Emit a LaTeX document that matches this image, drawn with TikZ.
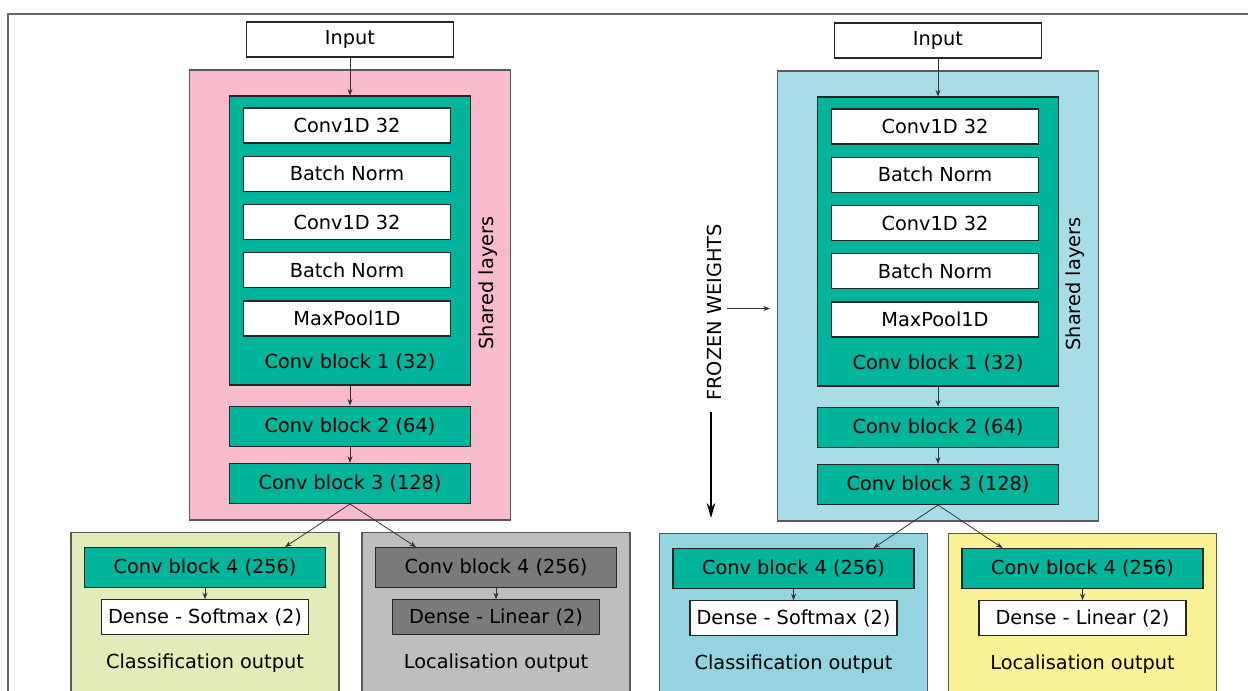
\documentclass[tikz,border=0pt]{standalone}
\usepackage{fontspec}
\setmainfont{DejaVu Sans}
\usetikzlibrary{positioning,arrows.meta,calc}

\definecolor{blockteal}{HTML}{00B59B}
\definecolor{sharedpink}{HTML}{F8BBCB}
\definecolor{sharedblue}{HTML}{A8DDE7}
\definecolor{classgreen}{HTML}{E3EBB9}
\definecolor{classblue}{HTML}{94D4E1}
\definecolor{locgrey}{HTML}{BEBEBE}
\definecolor{darkgrey}{HTML}{7A7A7A}
\definecolor{locyellow}{HTML}{F9F294}

\begin{document}
\begin{tikzpicture}[
  x=0.02cm, y=-0.02cm,
  every node/.style={font=\fontsize{11}{13}\selectfont, inner sep=0pt},
  layer/.style={draw=black!85, fill=white, line width=0.7pt,
    minimum width=4.14cm, minimum height=0.7cm},
  block/.style={draw=black!85, fill=blockteal, line width=0.7pt,
    minimum width=4.82cm, minimum height=0.8cm},
  group/.style={draw=black!65, line width=0.7pt,
    minimum width=6.42cm, minimum height=9cm},
  outbox/.style={draw=black!65, line width=0.7pt, anchor=north,
    minimum width=5.36cm, minimum height=4cm},
  arrow/.style={-{Stealth[length=1.3mm, width=1mm]}, draw=black!80, line width=0.45pt},
  bigarrow/.style={-{Stealth[length=3mm, width=1.7mm]}, draw=black, line width=1pt}
]
  \useasboundingbox (0,0) rectangle (1248,690);
  \clip (0,0) rectangle (1248,690);
  \fill[white] (0,0) rectangle (1248,690);
  \draw[black!60, line width=0.7pt] (1248,14) -- (8,14) -- (8,700);

  % trained from scratch
  \node[layer] (inL) at (350,39.5) {Input};
  \node[group, fill=sharedpink] (shL) at (350,295) {};
  \node[rotate=90] at (488,283) {Shared layers};
  \node[block, minimum height=5.78cm] (b1L) at (350,240.5) {};
  \node[layer, below=0.24cm of b1L.north, xshift=-0.06cm] (c1L) {Conv1D 32};
  \node[layer, below=0.24cm of c1L] (n1L) {Batch Norm};
  \node[layer, below=0.24cm of n1L] (c2L) {Conv1D 32};
  \node[layer, below=0.24cm of c2L] (n2L) {Batch Norm};
  \node[layer, below=0.24cm of n2L] (mpL) {MaxPool1D};
  \node at ([yshift=0.47cm]b1L.south) {Conv block 1 (32)};
  \node[block, below=0.4cm of b1L] (b2L) {Conv block 2 (64)};
  \node[block, below=0.32cm of b2L] (b3L) {Conv block 3 (128)};

  \node[outbox, fill=classgreen] (clL) at (205,532) {};
  \node[block, below=0.3cm of clL.north] (k4L) {Conv block 4 (256)};
  \node[layer, below=0.22cm of k4L] (smL) {Dense - Softmax (2)};
  \node at (205,663) {Classification output};

  \node[outbox, fill=locgrey] (loL) at (496,532) {};
  \node[block, fill=darkgrey, below=0.3cm of loL.north] (g4L) {Conv block 4 (256)};
  \node[layer, fill=darkgrey, below=0.22cm of g4L] (liL) {Dense - Linear (2)};
  \node at (496,663) {Localisation output};

  \draw[arrow] (inL) -- (b1L.north);
  \draw[arrow] (b1L) -- (b2L);
  \draw[arrow] (b2L) -- (b3L);
  \draw[arrow] (k4L) -- (smL);
  \draw[arrow] (g4L) -- (liL);
  \draw[arrow] (b3L.south) -- ([xshift=1.6cm]k4L.north);
  \draw[arrow] (b3L.south) -- ([xshift=-1.6cm]g4L.north);

  % transfer with frozen shared layers
  \node[layer] (inR) at (938,40.5) {Input};
  \node[group, fill=sharedblue] (shR) at (938,296) {};
  \node[rotate=90] at (1075,284) {Shared layers};
  \node[block, minimum height=5.78cm] (b1R) at (938,241.5) {};
  \node[layer, below=0.24cm of b1R.north, xshift=-0.06cm] (c1R) {Conv1D 32};
  \node[layer, below=0.24cm of c1R] (n1R) {Batch Norm};
  \node[layer, below=0.24cm of n1R] (c2R) {Conv1D 32};
  \node[layer, below=0.24cm of c2R] (n2R) {Batch Norm};
  \node[layer, below=0.24cm of n2R] (mpR) {MaxPool1D};
  \node at ([yshift=0.47cm]b1R.south) {Conv block 1 (32)};
  \node[block, below=0.4cm of b1R] (b2R) {Conv block 2 (64)};
  \node[block, below=0.32cm of b2R] (b3R) {Conv block 3 (128)};

  \node[outbox, fill=classblue] (clR) at (793.5,533) {};
  \node[block, below=0.3cm of clR.north] (k4R) {Conv block 4 (256)};
  \node[layer, below=0.22cm of k4R] (smR) {Dense - Softmax (2)};
  \node at (793.5,664) {Classification output};

  \node[outbox, fill=locyellow] (loR) at (1082.5,533) {};
  \node[block, below=0.3cm of loR.north] (g4R) {Conv block 4 (256)};
  \node[layer, below=0.22cm of g4R] (liR) {Dense - Linear (2)};
  \node at (1082.5,664) {Localisation output};

  \draw[arrow] (inR) -- (b1R.north);
  \draw[arrow] (b1R) -- (b2R);
  \draw[arrow] (b2R) -- (b3R);
  \draw[arrow] (k4R) -- (smR);
  \draw[arrow] (g4R) -- (liR);
  \draw[arrow] (b3R.south) -- ([xshift=1.6cm]k4R.north);
  \draw[arrow] (b3R.south) -- ([xshift=-1.6cm]g4R.north);

  \node[rotate=90] (fw) at (714,312.5) {FROZEN WEIGHTS};
  \draw[arrow, shorten >=0.14cm] ([xshift=0.1cm, yshift=0.08cm]fw.south)
    -- ([yshift=0.08cm]fw.south -| shR.west);
  \draw[bigarrow, shorten >=0.3cm] ([yshift=-0.22cm, xshift=-0.06cm]fw.west)
    -- ([xshift=-0.06cm]fw.west |- clR.north);
\end{tikzpicture}
\end{document}
